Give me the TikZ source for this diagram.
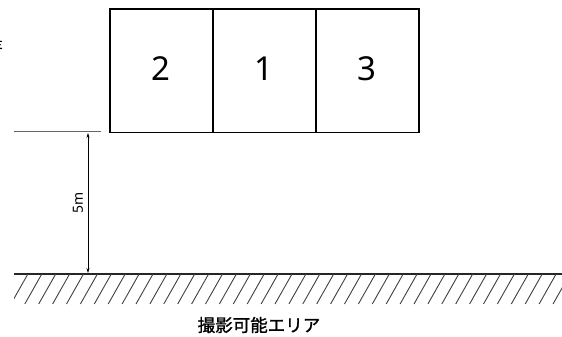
\documentclass[tikz,border=0pt]{standalone}
\usepackage{fontspec}
\usetikzlibrary{arrows.meta}
\setmainfont{Noto Sans}
\newfontfamily\jpfont{Noto Sans CJK JP}
\newfontfamily\jpfontb[FakeBold=1.2]{Noto Sans CJK JP}
\begin{document}
\begin{tikzpicture}[x=1pt,y=-1pt,
  outer/.style={draw=black,line width=1.6pt},
  numlbl/.style={font=\fontsize{33}{33}\selectfont,inner sep=0pt},
  guide/.style={draw=black!60,line width=0.8pt},
  ground/.style={draw=black!85,line width=1.8pt},
  hatch/.style={draw=black!75,line width=0.9pt},
  dim/.style={draw=black,line width=0.5pt,{Stealth[length=5pt,width=3pt]}-{Stealth[length=5pt,width=3pt]}}]
\useasboundingbox (0,0) rectangle (562,337);
% camera boxes
\node[outer,minimum width=103pt,minimum height=123pt,anchor=north west,inner sep=0pt] (b2) at (109,8.5) {};
\node[outer,minimum width=103pt,minimum height=123pt,anchor=north west,inner sep=0pt] (b1) at (212,8.5) {};
\node[outer,minimum width=103pt,minimum height=123pt,anchor=north west,inner sep=0pt] (b3) at (315,8.5) {};
\node[numlbl] (n2) at ([yshift=2pt]b2.center) {2};
\node[numlbl] (n1) at ([yshift=2pt]b1.center) {1};
\node[numlbl] (n3) at ([yshift=2pt]b3.center) {3};
% clipped text at left edge
\node[anchor=east,inner sep=0pt,font=\jpfont\fontsize{18}{18}\selectfont] (cut) at (4,42) {是};
% reference line
\coordinate (gl) at (14,131);
\coordinate (gr) at (101,131);
\draw[guide] (gl) -- (gr);
% ground
\coordinate (g1) at (14,274);
\coordinate (g2) at (562,274);
\draw[ground] (g1) -- (g2);
\begin{scope}
\clip (14,274) rectangle (562,304);
\foreach \i in {0,...,42} {
  \draw[hatch] (14+\i*13.9,274) -- ++(-17,30);
}
\end{scope}
% dimension
\coordinate (dt) at (88,133);
\coordinate (db) at (88,273);
\draw[dim] (dt) -- (db);
\node[rotate=90,font=\fontsize{14}{14}\selectfont,inner sep=0pt] (m5) at (78,203) {5m};
% area label
\node[font=\jpfontb\fontsize{17.5}{17.5}\selectfont,inner sep=0pt] (area) at (259,325) {撮影可能エリア};
\end{tikzpicture}
\end{document}
